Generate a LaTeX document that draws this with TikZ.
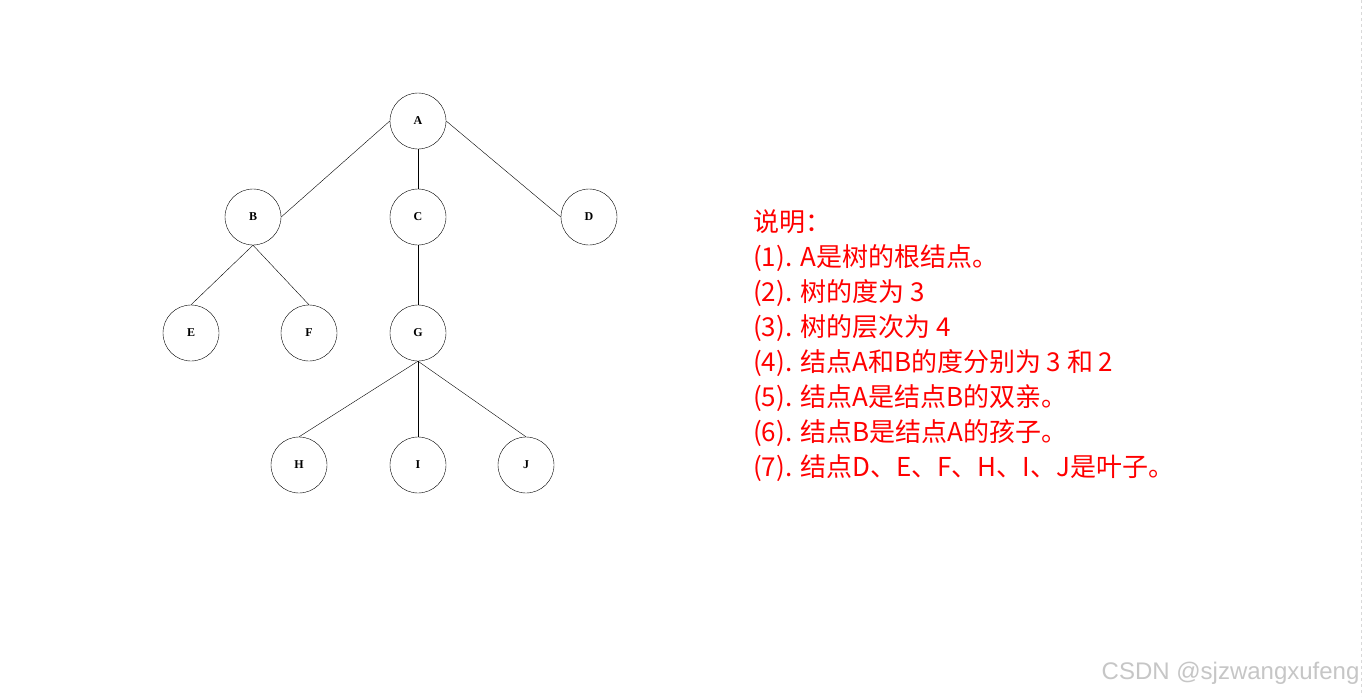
\documentclass[tikz,border=0pt]{standalone}
\usepackage{fontspec}
\setmainfont{Liberation Serif}
\newfontfamily\cjk{Noto Sans CJK SC}
\newfontfamily\wmfont{Liberation Sans}
\usetikzlibrary{positioning}

\begin{document}
\begin{tikzpicture}[
  x=1pt, y=-1pt,
  treenode/.style={draw, circle, minimum size=56pt, inner sep=0pt, thin, font=\fontsize{12}{14}\selectfont\bfseries},
  edge/.style={draw, thin},
  notes/.style={align=left, anchor=north west, inner sep=0pt, text=red, font=\cjk\fontsize{26}{35}\selectfont},
  wmark/.style={text=gray!45, font=\wmfont\fontsize{24}{26}\selectfont}
]
\useasboundingbox[fill=white] (0,0) rectangle (1370,696);

% frame line at the right
\draw[gray!30, dashed] (1361,0) -- (1361,696);

\node[treenode] (a) at (418, 121) {A};
\node[treenode] (b) at (253, 217) {B};
\node[treenode] (c) at (418, 217) {C};
\node[treenode] (d) at (589, 217) {D};
\node[treenode] (e) at (191, 333) {E};
\node[treenode] (f) at (309, 333) {F};
\node[treenode] (g) at (418, 333) {G};
\node[treenode] (h) at (299, 465) {H};
\node[treenode] (i) at (418, 465) {I};
\node[treenode] (j) at (526, 465) {J};

\draw[edge] (a.west) -- (b.east);
\draw[edge] (a.south) -- (c.north);
\draw[edge] (a.east) -- (d.west);
\draw[edge] (b.south) -- (e.north);
\draw[edge] (b.south) -- (f.north);
\draw[edge] (c.south) -- (g.north);
\draw[edge] (g.south) -- (h.north);
\draw[edge] (g.south) -- (i.north);
\draw[edge] (g.south) -- (j.north);

\node[notes] (expl) at (753, 209) {说明：\\
(1). A是树的根结点。\\
(2). 树的度为 3\\
(3). 树的层次为 4\\
(4). 结点A和B的度分别为 3 和 2\\
(5). 结点A是结点B的双亲。\\
(6). 结点B是结点A的孩子。\\
(7). 结点D、E、F、H、I、J是叶子。};

\node[wmark, anchor=base east] (wm) at (1363, 679) {CSDN @sjzwangxufeng};
\end{tikzpicture}
\end{document}
